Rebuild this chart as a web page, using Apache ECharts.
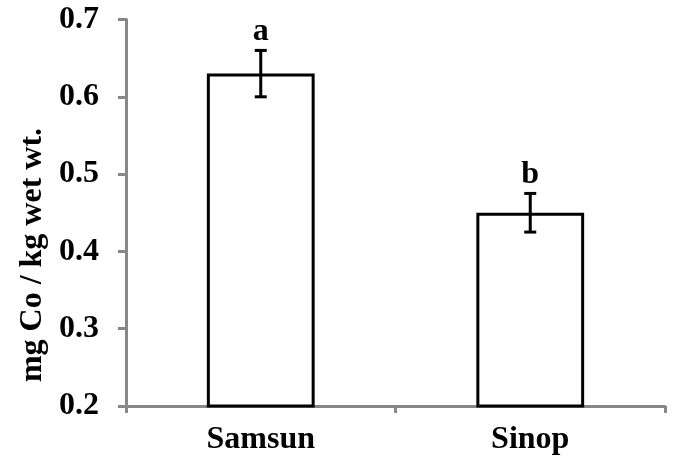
<!DOCTYPE html>
<html>
<head>
<meta charset="utf-8">
<script src="https://cdn.jsdelivr.net/npm/echarts@6/dist/echarts.min.js"></script>
<style>html,body{margin:0;padding:0;background:#fff}#c{width:673px;height:464px}</style>
</head>
<body>
<div id="c"></div>
<script>
const categories = ['Samsun', 'Sinop'];
const means = [0.63, 0.45];
const errors = [0.03, 0.025];
const letters = ['a', 'b'];
const yTicks = [0.2, 0.3, 0.4, 0.5, 0.6, 0.7];
const yTitle = 'mg Co / kg wet wt.';

const FONT = "'Liberation Serif', 'Times New Roman', serif";
const AXIS = '#878787';
const FS = 32;
const chart = echarts.init(document.getElementById('c'), null, {renderer: 'canvas'});
chart.setOption({
  animation: false,
  backgroundColor: '#fff',
  grid: {left: 126, right: 8, top: 19.5, bottom: 58, containLabel: false},
  xAxis: {
    type: 'category', data: categories, boundaryGap: true,
    axisLine: {lineStyle: {color: AXIS, width: 3}},
    axisTick: {show: true, length: 7, lineStyle: {color: AXIS, width: 3}},
    axisLabel: {fontFamily: FONT, fontWeight: 'bold', fontSize: FS, color: '#000', margin: 18}
  },
  yAxis: {
    type: 'value', min: yTicks[0], max: yTicks[yTicks.length - 1], interval: 0.1,
    splitLine: {show: false},
    axisLine: {show: true, lineStyle: {color: AXIS, width: 3}},
    axisTick: {show: true, length: 8, lineStyle: {color: AXIS, width: 3}},
    axisLabel: {fontFamily: FONT, fontWeight: 'bold', fontSize: FS, color: '#000', margin: 27,
      formatter: v => v.toFixed(1)}
  },
  graphic: [{
    type: 'text', x: 33, y: 255, rotation: Math.PI / 2,
    style: {text: yTitle, fontFamily: FONT, fontWeight: 'bold', fontSize: FS, fill: '#000',
      align: 'center', verticalAlign: 'middle'}
  }],
  series: [{
    type: 'bar', data: means, barCategoryGap: '60%',
    itemStyle: {color: '#fff', borderColor: '#000', borderWidth: 3}
  }, {
    type: 'custom',
    data: means.map((m, i) => [i, m - errors[i], m + errors[i]]),
    renderItem: function (params, api) {
      const i = api.value(0);
      const lo = api.coord([i, api.value(1)]);
      const hi = api.coord([i, api.value(2)]);
      const x = lo[0], cw = 6;
      const st = {stroke: '#000', lineWidth: 3};
      return {type: 'group', children: [
        {type: 'line', shape: {x1: x, y1: lo[1], x2: x, y2: hi[1]}, style: st},
        {type: 'line', shape: {x1: x - cw, y1: lo[1], x2: x + cw, y2: lo[1]}, style: st},
        {type: 'line', shape: {x1: x - cw, y1: hi[1], x2: x + cw, y2: hi[1]}, style: st},
        {type: 'text', x: x, y: hi[1] - 3, style: {text: letters[params.dataIndex], fontFamily: FONT,
          fontWeight: 'bold', fontSize: FS, fill: '#000', align: 'center', verticalAlign: 'bottom'}}
      ]};
    },
    z: 5
  }]
});
</script>
</body>
</html>
